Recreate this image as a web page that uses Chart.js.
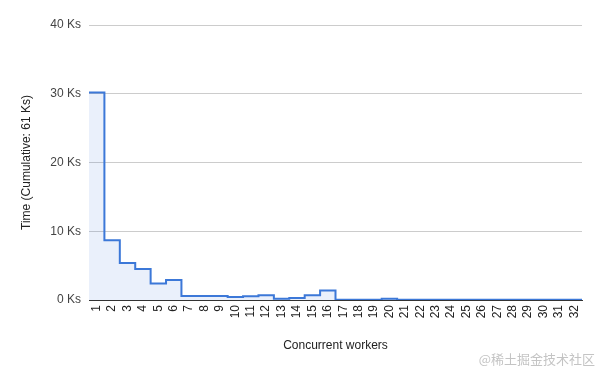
<!DOCTYPE html>
<html>
<head>
<meta charset="utf-8">
<script src="https://cdn.jsdelivr.net/npm/chart.js@4"></script>
<style>
  body { margin: 0; background: #fff; }
  #wrap { position: relative; width: 600px; height: 371px; }
  #mark { position: absolute; right: 5px; top: 349px; font: 13px "Noto Sans CJK SC", sans-serif; color: #c4c4c4; }
</style>
</head>
<body>
<div id="wrap">
  <canvas id="CHARTWORKERS" width="600" height="371"></canvas>
  <div id="mark">@稀土掘金技术社区</div>
</div>
<script>
  // concurrent workers 1..32, time in Ks
  const workers = [1, 2, 3, 4, 5, 6, 7, 8, 9, 10, 11, 12, 13, 14, 15, 16,
                   17, 18, 19, 20, 21, 22, 23, 24, 25, 26, 27, 28, 29, 30, 31, 32];
  const timeKs = [30.2, 8.7, 5.4, 4.5, 2.4, 2.9, 0.6, 0.6, 0.6, 0.45, 0.55, 0.7, 0.2, 0.3, 0.7, 1.4,
                  0.05, 0.05, 0.05, 0.2, 0.02, 0.02, 0.02, 0.02, 0.02, 0.02, 0.02, 0.02, 0.02, 0.02, 0.02, 0.02];
  const yTicks = [0, 10, 20, 30, 40];

  // each worker count covers a full band [n-0.5, n+0.5]
  const points = workers.map((w, i) => ({ x: w - 0.5, y: timeKs[i] }));
  points.push({ x: workers[workers.length - 1] + 0.5, y: timeKs[timeKs.length - 1] });

  const font = { family: '"Liberation Sans", Arial, sans-serif', size: 12 };

  const ctx = document.getElementById('CHARTWORKERS');

  new Chart(ctx, {
    type: 'line',
    data: {
      datasets: [{
        label: 'Time',
        data: points,
        stepped: true,
        borderColor: '#3c78d8',
        borderWidth: 2,
        backgroundColor: 'rgba(60,120,216,0.11)',
        fill: 'origin',
        pointRadius: 0
      }]
    },
    options: {
      responsive: false,
      animation: false,
      layout: { padding: { left: 0, right: 18, top: 25, bottom: 0 } },
      plugins: { legend: { display: false }, tooltip: { enabled: false } },
      scales: {
        x: {
          type: 'linear',
          min: 0.5,
          max: 32.5,
          afterBuildTicks: (scale) => { scale.ticks = workers.map(w => ({ value: w })); },
          afterFit: (scale) => { scale.height = 71; },
          grid: { display: false, drawTicks: false },
          border: { color: '#333', width: 1 },
          ticks: {
            autoSkip: false, minRotation: 90, maxRotation: 90, padding: 5,
            color: '#222', font: font
          },
          title: {
            display: true, text: 'Concurrent workers', color: '#222', font: font,
            padding: { top: 0, bottom: 18 }
          }
        },
        y: {
          min: 0,
          max: 40,
          afterBuildTicks: (scale) => { scale.ticks = yTicks.map(v => ({ value: v })); },
          afterFit: (scale) => { scale.width = 89; },
          grid: { color: '#cccccc', drawTicks: false },
          border: { display: false },
          ticks: {
            padding: 8, color: '#444', font: font,
            callback: (v) => v + ' Ks'
          },
          title: {
            display: true, text: 'Time (Cumulative: 61 Ks)', color: '#222', font: font,
            padding: { top: 19, bottom: 0 }
          }
        }
      }
    }
  });
</script>
</body>
</html>
